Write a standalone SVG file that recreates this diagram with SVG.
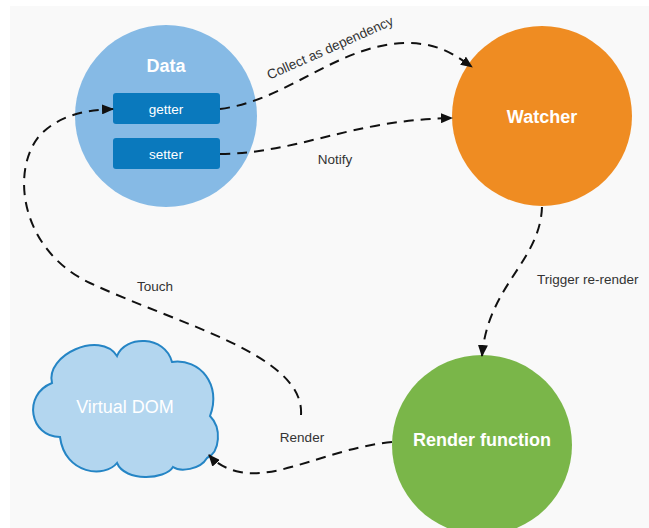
<svg xmlns="http://www.w3.org/2000/svg" width="649" height="528" viewBox="0 0 649 528">
  <style>
    .title { font-family: "Liberation Sans", Arial, sans-serif; font-size: 18px; font-weight: bold; fill: #ffffff; text-anchor: middle; }
    .prop { font-family: "Liberation Sans", Arial, sans-serif; font-size: 13.5px; fill: #ffffff; text-anchor: middle; }
    .label { font-family: "Liberation Sans", Arial, sans-serif; font-size: 13.5px; fill: #333333; }
    .edge { fill: none; stroke: #111111; stroke-width: 2; stroke-dasharray: 10 7; marker-end: url(#arrow); }
    .field { fill: #0a79bd; }
  </style>
  <defs>
    <marker id="arrow" markerWidth="12" markerHeight="10" refX="11" refY="5" orient="auto" markerUnits="userSpaceOnUse">
      <path d="M0,0 L12,5 L0,10 Z" fill="#111111"/>
    </marker>
  </defs>

  <!-- canvas -->
  <rect x="0" y="0" width="649" height="528" fill="#ffffff"/>
  <rect x="10" y="6" width="639" height="522" fill="#f9f9f9"/>

  <g id="data">
    <circle cx="166" cy="116" r="91" fill="#86bae5"/>
    <text class="title" x="166" y="72">Data</text>
    <g id="getter">
      <rect class="field" x="113" y="93" width="107" height="31" rx="3"/>
      <text class="prop" x="166" y="113.5">getter</text>
    </g>
    <g id="setter">
      <rect class="field" x="113" y="138" width="107" height="31" rx="3"/>
      <text class="prop" x="166" y="158.5">setter</text>
    </g>
  </g>

  <g id="watcher">
    <circle cx="542" cy="116" r="90" fill="#ef8c22"/>
    <text class="title" x="542" y="123">Watcher</text>
  </g>

  <g id="render-function">
    <circle cx="482" cy="445" r="90" fill="#7ab649"/>
    <text class="title" x="482" y="446">Render function</text>
  </g>

  <g id="virtual-dom">
    <path d="M52,383 C45,355 100,330 117,356 C125,335 165,335 172,362 C200,358 222,385 210,416 C222,428 220,452 207,458 C200,470 180,472 173,467 C165,480 125,482 117,463 C105,478 65,475 60,437 C30,437 22,395 52,383 Z" fill="#b3d6ef" stroke="#2585c5" stroke-width="2"/>
    <text x="125" y="413" font-family="'Liberation Sans', Arial, sans-serif" font-size="18" fill="#ffffff" text-anchor="middle">Virtual DOM</text>
  </g>

  <g id="connectors">
    <path class="edge" d="M220,109 C290,100 340,42 410,43 C440,44 455,55 472,67"/>
    <text class="label" x="332" y="52" text-anchor="middle" transform="rotate(-24 332 52)">Collect as dependency</text>

    <path class="edge" d="M220,154 C300,153 350,120 452,118"/>
    <text class="label" x="335" y="164" text-anchor="middle">Notify</text>

    <path class="edge" d="M542,207 C540,262 488,285 482,356"/>
    <text class="label" x="537" y="284">Trigger re-render</text>

    <path class="edge" d="M392,442 C330,448 280,480 240,472 C225,469 215,462 209,455"/>
    <text class="label" x="302" y="442" text-anchor="middle">Render</text>

    <path class="edge" d="M301,415 C305,355 180,325 90,283 C20,250 10,170 40,135 C60,115 85,110 113,109"/>
    <text class="label" x="155" y="291" text-anchor="middle">Touch</text>
  </g>
</svg>
